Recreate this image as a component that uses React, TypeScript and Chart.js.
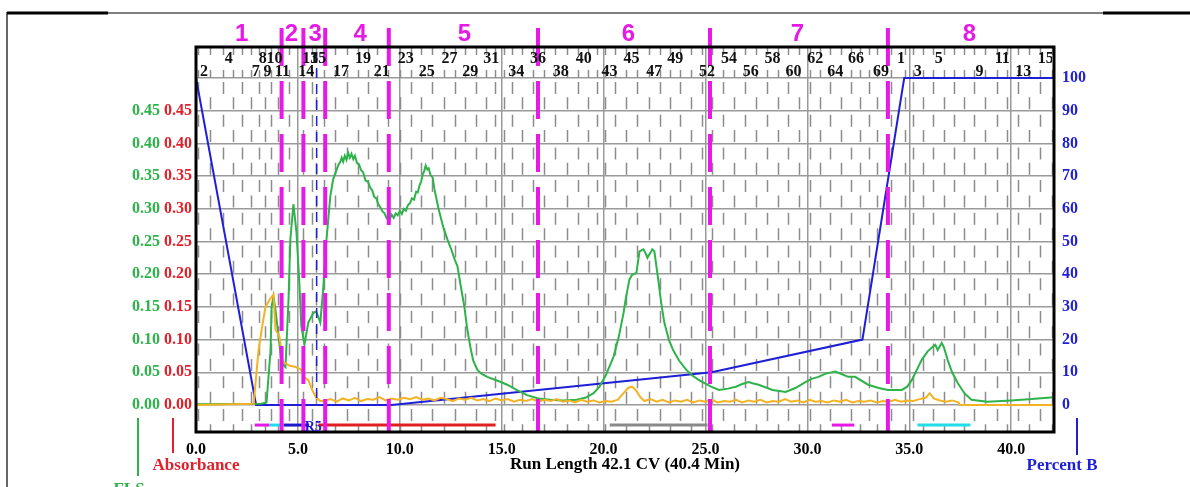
import React, { useEffect, useRef } from 'react';
import { Chart, registerables } from 'chart.js';

Chart.register(...registerables);

// ---------- data ----------
const xTickValues = [0, 5, 10, 15, 20, 25, 30, 35, 40];
const leftTickValues = [0, 0.05, 0.1, 0.15, 0.2, 0.25, 0.3, 0.35, 0.4, 0.45, 0.5];
const percentTickValues = [0, 10, 20, 30, 40, 50, 60, 70, 80, 90, 100];

// FLS trace [CV, signal]
const flsPoints: [number, number][] = [
  [0, 0.001], [3.2, 0.002], [3.46, 0.004], [3.66, 0.084], [3.71, 0.15], [3.8, 0.166], [3.9, 0.146],
  [4.05, 0.104], [4.2, 0.064], [4.39, 0.058], [4.54, 0.161], [4.63, 0.253], [4.78, 0.307], [4.93, 0.264],
  [5.07, 0.187], [5.17, 0.12], [5.32, 0.092], [5.51, 0.126], [5.76, 0.141], [5.9, 0.143], [6.1, 0.126],
  [6.24, 0.177], [6.39, 0.249], [6.59, 0.319], [6.73, 0.345], [6.9, 0.36], [7.0, 0.368], [7.07, 0.371],
  [7.15, 0.378], [7.22, 0.372], [7.3, 0.381], [7.38, 0.375], [7.46, 0.386], [7.55, 0.378], [7.63, 0.384],
  [7.72, 0.376], [7.8, 0.381], [7.9, 0.37], [8.0, 0.368], [8.1, 0.359], [8.2, 0.356], [8.32, 0.343],
  [8.43, 0.342], [8.54, 0.333], [8.65, 0.328], [8.75, 0.318], [8.85, 0.316], [8.93, 0.308], [9.05, 0.302],
  [9.15, 0.296], [9.25, 0.293], [9.35, 0.286], [9.45, 0.29], [9.51, 0.284], [9.6, 0.291], [9.7, 0.286],
  [9.8, 0.293], [9.9, 0.29], [10.0, 0.297], [10.1, 0.292], [10.2, 0.3], [10.3, 0.297], [10.39, 0.305],
  [10.5, 0.309], [10.6, 0.316], [10.7, 0.314], [10.8, 0.326], [10.88, 0.325], [10.97, 0.336], [11.05, 0.342],
  [11.13, 0.353], [11.2, 0.358], [11.27, 0.366], [11.35, 0.36], [11.42, 0.362], [11.5, 0.352], [11.61, 0.348],
  [11.7, 0.33], [11.8, 0.315], [11.9, 0.3], [12.0, 0.288], [12.15, 0.27], [12.34, 0.253], [12.5, 0.24],
  [12.7, 0.222], [12.83, 0.212], [13.0, 0.18], [13.17, 0.15], [13.3, 0.118], [13.46, 0.089], [13.6, 0.068],
  [13.8, 0.054], [14.0, 0.048], [14.29, 0.043], [14.8, 0.037], [15.27, 0.031], [15.8, 0.022], [16.24, 0.015],
  [16.8, 0.01], [17.37, 0.008], [18.0, 0.007], [18.68, 0.008], [19.1, 0.011], [19.51, 0.018], [19.8, 0.028],
  [20.1, 0.045], [20.49, 0.074], [20.75, 0.105], [20.98, 0.141], [21.1, 0.165], [21.27, 0.192], [21.4, 0.199],
  [21.61, 0.202], [21.76, 0.235], [21.95, 0.238], [22.05, 0.233], [22.15, 0.225], [22.28, 0.232], [22.39, 0.238],
  [22.49, 0.235], [22.68, 0.192], [22.83, 0.155], [22.98, 0.126], [23.2, 0.1], [23.41, 0.084], [23.7, 0.068],
  [24.05, 0.054], [24.35, 0.045], [24.68, 0.038], [25.27, 0.028], [25.66, 0.023], [26.1, 0.025], [26.49, 0.028],
  [26.8, 0.032], [27.12, 0.035], [27.35, 0.033], [27.61, 0.031], [28.29, 0.023], [28.93, 0.02], [29.41, 0.026],
  [29.9, 0.035], [30.2, 0.04], [30.54, 0.043], [30.9, 0.048], [31.37, 0.051], [31.7, 0.047], [32.0, 0.043],
  [32.34, 0.043], [32.98, 0.031], [33.5, 0.026], [33.95, 0.023], [34.63, 0.023], [34.9, 0.028], [35.12, 0.038],
  [35.61, 0.069], [35.9, 0.082], [36.15, 0.089], [36.28, 0.092], [36.39, 0.084], [36.5, 0.09], [36.59, 0.095],
  [36.7, 0.088], [36.88, 0.069], [37.1, 0.05], [37.37, 0.034], [37.7, 0.018], [38.05, 0.008], [38.83, 0.005],
  [40.0, 0.007], [41.0, 0.009], [42.1, 0.012],
];

// Absorbance trace [CV, AU]
const absPoints: [number, number][] = [
  [0, 0], [2.83, 0.002], [3.07, 0.084], [3.22, 0.115], [3.41, 0.15], [3.61, 0.161], [3.8, 0.169],
  [3.9, 0.115], [4.0, 0.11], [4.1, 0.104], [4.25, 0.066], [4.39, 0.064], [4.6, 0.06], [4.9, 0.058],
  [5.15, 0.054], [5.3, 0.043], [5.51, 0.038], [5.7, 0.023], [5.9, 0.011], [6.1, 0.006],
  [6.3, 0.006], [6.6, 0.009], [6.9, 0.005], [7.2, 0.01], [7.5, 0.007], [7.8, 0.011], [8.1, 0.006],
  [8.4, 0.009], [8.7, 0.008], [9.0, 0.012], [9.3, 0.007], [9.6, 0.01], [9.9, 0.008], [10.2, 0.011],
  [10.5, 0.009], [10.8, 0.012], [11.1, 0.008], [11.4, 0.01], [11.7, 0.007], [12.0, 0.011], [12.3, 0.009],
  [12.6, 0.006], [12.9, 0.01], [13.2, 0.008], [13.5, 0.011], [13.8, 0.007], [14.1, 0.009], [14.4, 0.006],
  [14.7, 0.01], [15.0, 0.007], [15.3, 0.009], [15.6, 0.005], [15.9, 0.008], [16.2, 0.006], [16.5, 0.009],
  [16.8, 0.005], [17.1, 0.008], [17.4, 0.006], [17.7, 0.009], [18.0, 0.005], [18.3, 0.007], [18.6, 0.004],
  [18.9, 0.008], [19.2, 0.005], [19.5, 0.007], [19.8, 0.004], [20.1, 0.006], [20.4, 0.005], [20.7, 0.008],
  [21.0, 0.019], [21.2, 0.026], [21.4, 0.028], [21.6, 0.022], [21.8, 0.012], [22.0, 0.006], [22.3, 0.009],
  [22.6, 0.005], [22.9, 0.008], [23.2, 0.004], [23.5, 0.007], [23.8, 0.005], [24.1, 0.008], [24.4, 0.004],
  [24.7, 0.007], [25.0, 0.005], [25.3, 0.008], [25.6, 0.004], [25.9, 0.006], [26.2, 0.005], [26.5, 0.008],
  [26.8, 0.004], [27.1, 0.007], [27.4, 0.005], [27.7, 0.008], [28.0, 0.004], [28.3, 0.006], [28.6, 0.005],
  [28.9, 0.009], [29.2, 0.005], [29.5, 0.007], [29.8, 0.004], [30.1, 0.008], [30.4, 0.005], [30.7, 0.006],
  [31.0, 0.004], [31.3, 0.007], [31.6, 0.005], [31.9, 0.008], [32.2, 0.004], [32.5, 0.006], [32.8, 0.005],
  [33.1, 0.007], [33.4, 0.004], [33.7, 0.006], [34.0, 0.005], [34.3, 0.008], [34.6, 0.005], [34.9, 0.007],
  [35.2, 0.006], [35.5, 0.009], [35.8, 0.011], [36.0, 0.018], [36.2, 0.01], [36.5, 0.007], [36.8, 0.005],
  [37.1, 0.007], [37.4, 0.004], [37.5, 0], [42.1, 0],
];

// Gradient, percent B [CV, %]
const percentBPoints: [number, number][] = [
  [0, 100], [2.95, 0], [9.6, 0], [25.3, 10], [32.7, 20], [34.75, 100], [42.1, 100],
];

// Fractions
const fractionNames = ['1', '2', '3', '4', '5', '6', '7', '8'];
const fractionNameCV = [2.24, 4.68, 5.85, 8.05, 13.17, 21.22, 29.51, 37.95];
const fractionBoundsCV = [4.2, 5.27, 6.34, 9.46, 16.78, 25.22, 33.95];
const injectionCV = 5.92;

// Tube labels (text, sequential slot, CV position)
const tubeText = ['2', '4', '7', '8', '9', '10', '11', '13', '14', '15', '17', '19', '21', '23', '25', '27', '29', '31', '34', '36', '38', '40', '43', '45', '47', '49', '52', '54', '56', '58', '60', '62', '64', '66', '69', '1', '3', '5', '9', '11', '13', '15'];
const tubeSlot = [2, 4, 7, 8, 9, 10, 11, 13, 14, 15, 17, 19, 21, 23, 25, 27, 29, 31, 34, 36, 38, 40, 43, 45, 47, 49, 52, 54, 56, 58, 60, 62, 64, 66, 69, 70, 72, 74, 78, 80, 82, 84];
const tubeCV = [0.39, 1.61, 2.93, 3.27, 3.51, 3.85, 4.24, 5.61, 5.41, 6.0, 7.12, 8.2, 9.12, 10.29, 11.32, 12.44, 13.46, 14.49, 15.71, 16.78, 17.9, 19.02, 20.29, 21.37, 22.49, 23.51, 25.07, 26.15, 27.22, 28.29, 29.32, 30.39, 31.37, 32.39, 33.61, 34.59, 35.41, 36.44, 38.44, 39.56, 40.59, 41.7];

// Collection bars (CV start / end)
const barStartCV = [2.88, 3.6, 4.3, 6.0, 20.3, 31.2, 35.4];
const barEndCV = [3.6, 4.2, 5.55, 14.7, 25.1, 32.3, 38.0];
const barColors = ['#e619e6', '#22dde8', '#1a1acc', '#e02020', '#8a8a8a', '#e619e6', '#22dde8'];
const BAR_LEVEL = -0.0307;

// ---------- styles ----------
const SERIF = "'Liberation Serif', 'Times New Roman', serif";
const SANS = "'Liberation Sans', Arial, sans-serif";
const MAGENTA = '#e619e6';
const GREEN = '#2db34a';
const ORANGE = '#f4b324';
const BLUE = '#1f1fd6';
const RED = '#e0202a';
const GRID = '#9a9a9a';

const Y_MIN = -0.0413;
const Y_MAX = 0.5474;

function tubeBoundaries(): number[] {
  const out: number[] = [];
  let prevCV = -1, prevSlot = -1, firstW = 0.5, lastW = 0.5;
  for (let i = 0; i < tubeSlot.length; i++) {
    const s = tubeSlot[i], c = tubeCV[i];
    if (prevSlot < 0) { prevCV = c; prevSlot = s; continue; }
    if (c <= prevCV) continue;
    const w = (c - prevCV) / (s - prevSlot);
    if (out.length === 0) { firstW = w; out.push(prevCV - w / 2); }
    for (let k = 0; k < s - prevSlot; k++) out.push(prevCV + w * (k + 0.5));
    lastW = w;
    prevCV = c; prevSlot = s;
  }
  out.push(prevCV + lastW / 2);
  return out.filter((v) => v > 0.05 && v < 42.05 && firstW > 0);
}

const decorPlugin = {
  id: 'decor',
  beforeDraw(chart: any) {
    const { ctx, width, height } = chart;
    ctx.save();
    ctx.fillStyle = '#ffffff';
    ctx.fillRect(0, 0, width, height);
    ctx.strokeStyle = '#000';
    ctx.lineWidth = 3;
    ctx.beginPath(); ctx.moveTo(7, 13); ctx.lineTo(108, 13); ctx.stroke();
    ctx.beginPath(); ctx.moveTo(1103, 13); ctx.lineTo(1190, 13); ctx.stroke();
    ctx.lineWidth = 1.2;
    ctx.beginPath(); ctx.moveTo(108, 13); ctx.lineTo(1103, 13); ctx.stroke();
    ctx.beginPath(); ctx.moveTo(7, 12); ctx.lineTo(7, height); ctx.stroke();
    ctx.restore();
  },
  beforeDatasetsDraw(chart: any) {
    const { ctx, chartArea: a, scales } = chart;
    const xs = scales.x, ys = scales.yAbs;
    const yTopData = ys.getPixelForValue(0.5);
    const band = ys.getPixelForValue(0) - ys.getPixelForValue(0.05);
    const bounds = tubeBoundaries();
    ctx.save();
    ctx.strokeStyle = '#8c8c8c';
    ctx.lineWidth = 1.5;
    bounds.forEach((cv, i) => {
      const px = Math.round(xs.getPixelForValue(cv)) + 0.5;
      ctx.setLineDash([12, band - 12]);
      ctx.lineDashOffset = i % 2 === 0 ? -4 : -(band / 2 + 3);
      ctx.beginPath(); ctx.moveTo(px, yTopData); ctx.lineTo(px, a.bottom); ctx.stroke();
      ctx.setLineDash([]);
      ctx.beginPath(); ctx.moveTo(px, a.top); ctx.lineTo(px, a.top + 8); ctx.stroke();
      ctx.beginPath(); ctx.moveTo(px, yTopData - 8); ctx.lineTo(px, yTopData); ctx.stroke();
    });
    ctx.restore();
  },
  afterDatasetsDraw(chart: any) {
    const { ctx, chartArea: a, scales } = chart;
    const xs = scales.x, ys = scales.yAbs;
    ctx.save();
    // injection marker
    ctx.strokeStyle = BLUE;
    ctx.lineWidth = 1.5;
    ctx.setLineDash([10, 6]);
    const ix = xs.getPixelForValue(injectionCV);
    ctx.beginPath(); ctx.moveTo(ix, 52); ctx.lineTo(ix, ys.getPixelForValue(0)); ctx.stroke();
    // fraction boundaries
    ctx.strokeStyle = MAGENTA;
    ctx.lineWidth = 4;
    ctx.setLineDash([38, 15]);
    ctx.lineDashOffset = 0;
    fractionBoundsCV.forEach((cv) => {
      const px = xs.getPixelForValue(cv);
      ctx.beginPath(); ctx.moveTo(px, 28); ctx.lineTo(px, a.bottom); ctx.stroke();
    });
    ctx.setLineDash([]);
    // frame
    ctx.strokeStyle = '#000';
    ctx.lineWidth = 3;
    ctx.strokeRect(a.left, a.top, a.right - a.left, a.bottom - a.top);
    // tube labels
    ctx.save();
    ctx.beginPath(); ctx.rect(a.left + 2, a.top, a.right - a.left - 4, 40); ctx.clip();
    ctx.fillStyle = '#111';
    ctx.font = `bold 16px ${SERIF}`;
    ctx.textAlign = 'center';
    ctx.textBaseline = 'alphabetic';
    tubeText.forEach((t, i) => {
      const px = xs.getPixelForValue(tubeCV[i]);
      ctx.fillText(t, px, i % 2 === 0 ? 76 : 63);
    });
    ctx.restore();
    // fraction numbers
    ctx.fillStyle = MAGENTA;
    ctx.font = `bold 24px ${SANS}`;
    ctx.textAlign = 'center';
    ctx.textBaseline = 'middle';
    fractionNames.forEach((t, i) => ctx.fillText(t, xs.getPixelForValue(fractionNameCV[i]), 34));
    // R marker
    ctx.fillStyle = '#1a1acc';
    ctx.font = `bold 14px ${SERIF}`;
    ctx.fillText('R5', xs.getPixelForValue(5.75), ys.getPixelForValue(BAR_LEVEL) + 2);
    // axis captions
    ctx.lineWidth = 2;
    ctx.strokeStyle = GREEN;
    ctx.beginPath(); ctx.moveTo(138, 418); ctx.lineTo(138, 476); ctx.stroke();
    ctx.strokeStyle = RED;
    ctx.beginPath(); ctx.moveTo(173, 418); ctx.lineTo(173, 453); ctx.stroke();
    ctx.strokeStyle = BLUE;
    ctx.beginPath(); ctx.moveTo(1077, 418); ctx.lineTo(1077, 455); ctx.stroke();
    ctx.font = `bold 17px ${SERIF}`;
    ctx.textBaseline = 'middle';
    ctx.fillStyle = RED;
    ctx.fillText('Absorbance', 196, 466);
    ctx.fillStyle = BLUE;
    ctx.fillText('Percent B', 1062, 466);
    ctx.fillStyle = GREEN;
    ctx.fillText('FLS', 129, 490);
    ctx.restore();
  },
};

export default function App() {
  const canvasRef = useRef<HTMLCanvasElement | null>(null);

  useEffect(() => {
    if (!canvasRef.current) return;
    const tickFont = { family: SERIF, size: 16, weight: 'bold' as const };
    const datasets: any[] = [
      {
        label: 'Absorbance',
        data: absPoints.map(([x, y]) => ({ x, y })),
        borderColor: ORANGE, borderWidth: 2, pointRadius: 0, yAxisID: 'yAbs',
      },
      {
        label: 'FLS',
        data: flsPoints.map(([x, y]) => ({ x, y })),
        borderColor: GREEN, borderWidth: 2, pointRadius: 0, yAxisID: 'yAbs',
      },
      {
        label: 'Percent B',
        data: percentBPoints.map(([x, y]) => ({ x, y })),
        borderColor: BLUE, borderWidth: 2, pointRadius: 0, yAxisID: 'yPct',
      },
      ...barStartCV.map((s, i) => ({
        label: 'fraction ' + i,
        data: [{ x: s, y: BAR_LEVEL }, { x: barEndCV[i], y: BAR_LEVEL }],
        borderColor: barColors[i], borderWidth: 3, pointRadius: 0, yAxisID: 'yAbs',
      })),
    ];
    const chart = new Chart(canvasRef.current, {
      type: 'line',
      data: { datasets },
      plugins: [decorPlugin],
      options: {
        animation: false,
        responsive: false,
        devicePixelRatio: 1,
        parsing: true,
        layout: { padding: { left: 126, right: 86, top: 47, bottom: 0 } },
        plugins: { legend: { display: false }, tooltip: { enabled: false } },
        elements: { line: { tension: 0 } },
        scales: {
          x: {
            type: 'linear', position: 'bottom', min: 0, max: 42.1,
            afterBuildTicks: (s: any) => { s.ticks = xTickValues.map((v) => ({ value: v })); },
            afterFit: (s: any) => { s.height = 55; },
            ticks: {
              autoSkip: false, maxRotation: 0, padding: 8, color: '#000', font: tickFont,
              callback: (v: any) => Number(v).toFixed(1),
            },
            grid: { color: GRID, lineWidth: 1.5, drawTicks: false },
            border: { display: false },
            title: {
              display: true, text: 'Run Length 42.1 CV (40.4 Min)', color: '#000',
              font: { family: SERIF, size: 17, weight: 'bold' }, padding: { top: 0, bottom: 12 },
            },
          },
          yAbs: {
            type: 'linear', position: 'left', weight: 0, min: Y_MIN, max: Y_MAX,
            afterBuildTicks: (s: any) => { s.ticks = leftTickValues.map((v) => ({ value: v })); },
            afterFit: (s: any) => { s.width = 33; },
            ticks: {
              padding: 4, color: RED, font: tickFont,
              callback: (v: any) => (Number(v) >= 0.499 ? '' : Number(v).toFixed(2)),
            },
            grid: { color: GRID, lineWidth: 1.5, drawTicks: false },
            border: { display: false },
          },
          yFls: {
            type: 'linear', position: 'left', weight: 1, min: Y_MIN, max: Y_MAX,
            afterBuildTicks: (s: any) => { s.ticks = leftTickValues.map((v) => ({ value: v })); },
            afterFit: (s: any) => { s.width = 37; },
            ticks: {
              padding: 3, color: GREEN, font: tickFont,
              callback: (v: any) => (Number(v) >= 0.499 ? '' : Number(v).toFixed(2)),
            },
            grid: { display: false, drawTicks: false },
            border: { display: false },
          },
          yPct: {
            type: 'linear', position: 'right', min: Y_MIN * 200, max: Y_MAX * 200,
            afterBuildTicks: (s: any) => { s.ticks = percentTickValues.map((v) => ({ value: v })); },
            afterFit: (s: any) => { s.width = 50; },
            ticks: { padding: 8, color: BLUE, font: tickFont, callback: (v: any) => String(Math.round(Number(v))) },
            grid: { display: false, drawTicks: false },
            border: { display: false },
          },
        },
      } as any,
    });
    return () => chart.destroy();
  }, []);

  return (
    <div style={{ position: 'fixed', left: 0, top: 0, width: 1190, height: 487, background: '#fff' }}>
      <canvas ref={canvasRef} width={1190} height={487} style={{ display: 'block', width: 1190, height: 487 }} />
    </div>
  );
}
